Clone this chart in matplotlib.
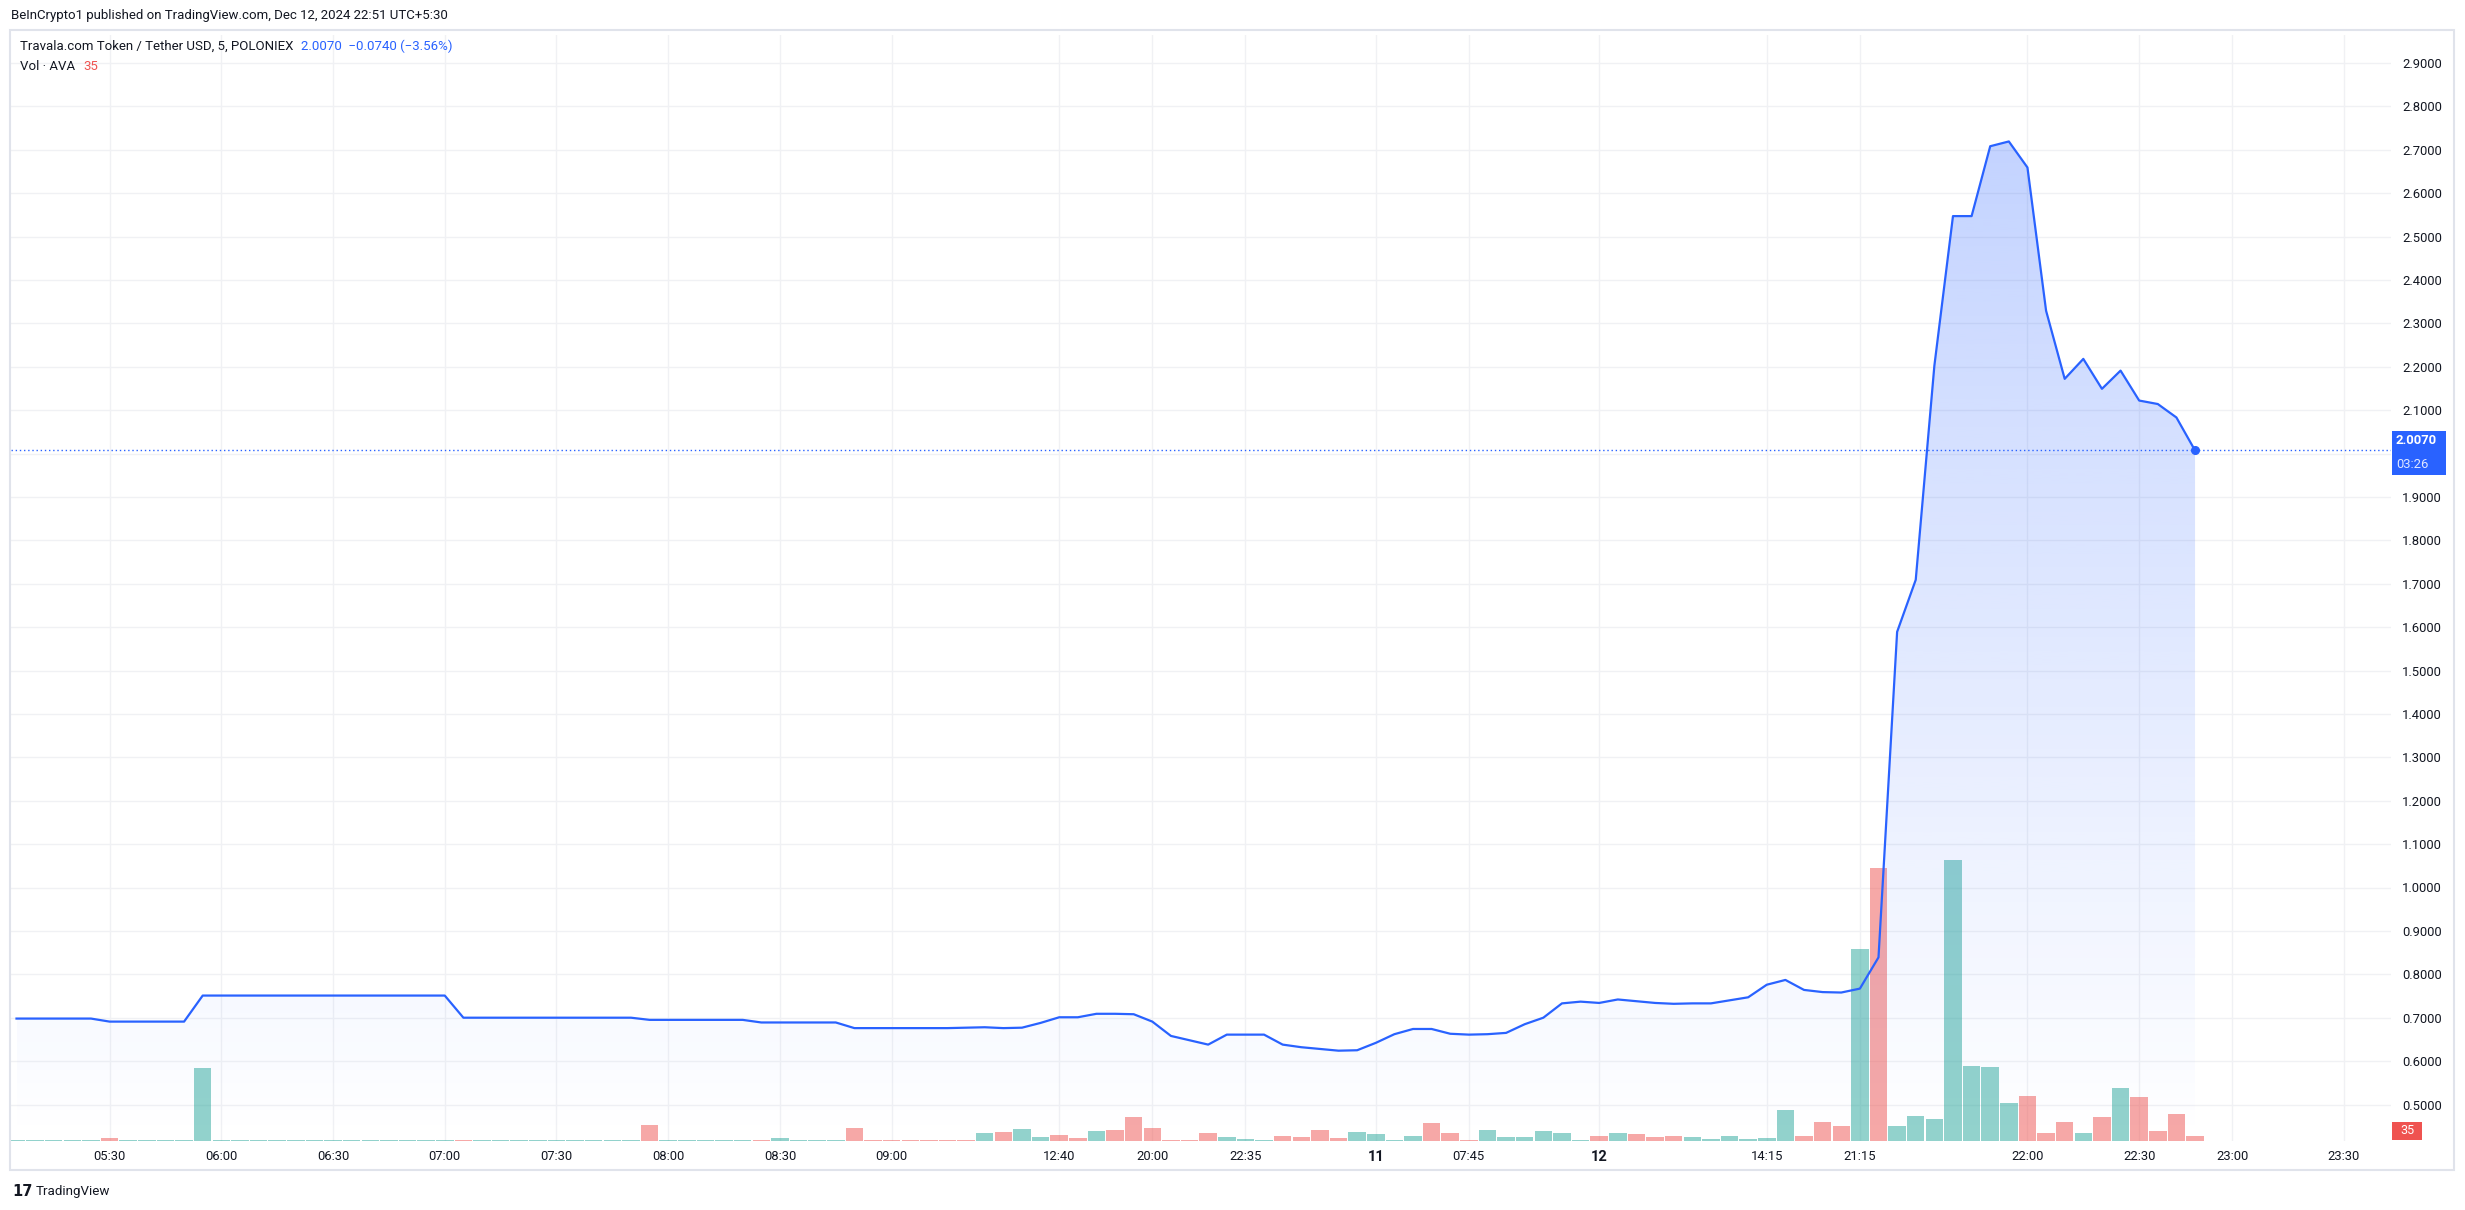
import matplotlib
matplotlib.use("Agg")
import matplotlib.pyplot as plt
import numpy as np
from matplotlib.patches import Rectangle, Polygon
from matplotlib.colors import LinearSegmentedColormap

# ---------------- data ----------------
price = [
    0.698, 0.698, 0.698, 0.698, 0.698,
    0.691, 0.691, 0.691, 0.691, 0.691,
    0.751, 0.751, 0.751, 0.751, 0.751, 0.751, 0.751,
    0.751, 0.751, 0.751, 0.751, 0.751, 0.751, 0.751,
    0.700, 0.700, 0.700, 0.700, 0.700, 0.700, 0.700, 0.700, 0.700, 0.700,
    0.695, 0.695, 0.695, 0.695, 0.695, 0.695,
    0.689, 0.689, 0.689, 0.689, 0.689,
    0.676, 0.676, 0.676, 0.676, 0.676, 0.676,
    0.677, 0.678, 0.676, 0.677,
    0.688, 0.701, 0.701, 0.709, 0.709,
    0.708, 0.691, 0.658, 0.648, 0.638, 0.661, 0.661, 0.661, 0.638, 0.632,
    0.628, 0.624, 0.625, 0.642, 0.662, 0.674, 0.674, 0.663, 0.661, 0.662,
    0.665, 0.685, 0.700, 0.733, 0.737, 0.734, 0.742, 0.738, 0.734, 0.732,
    0.733, 0.733, 0.740, 0.747, 0.776, 0.787, 0.764, 0.759, 0.758, 0.767,
    0.839, 1.589, 1.709, 2.202, 2.547, 2.547, 2.708, 2.719, 2.659, 2.329,
    2.172, 2.218, 2.149, 2.191, 2.122, 2.114, 2.083, 2.007,
]

volume = [
    6, 6, 6, 6, 6,
    22, 6, 6, 6, 6,
    473, 6, 6, 6, 6, 6, 6, 6, 6, 6, 6, 6, 6, 6,
    8, 6, 6, 6, 6, 6, 6, 6, 6, 6,
    107, 6, 6, 6, 6, 6,
    8, 22, 6, 6, 6,
    87, 6, 6, 6, 6, 6,
    6, 55, 61, 81,
    29, 42, 22, 68, 74,
    153, 87, 8, 8, 55, 29, 15, 8, 35, 29,
    74, 22, 61, 48, 8, 35, 120, 55, 8, 74,
    29, 29, 68, 55, 5, 35, 55, 48, 29, 35,
    29, 16, 35, 16, 22, 200, 35, 121, 95, 1245,
    1774, 95, 161, 141, 1827, 485, 478, 247, 293, 55,
    121, 55, 154, 346, 286, 62, 174, 35,
]

# 'u' = up (green) bar, 'd' = down (red) bar; one block of ten bars per string
direction = list("".join([
    "uuuuuduuuu",   # 0-9
    "uuuuuuuuuu",   # 10-19
    "uuuuduuuuu",   # 20-29
    "uuuuduuuuu",   # 30-39
    "duuuuddddd",   # 40-49
    "dduduuddud",   # 50-59
    "ddddduuudd",   # 60-69
    "dduuuudddu",   # 70-79
    "uuuuududdd",   # 80-89
    "uuuuuudddu",   # 90-99
    "duuuuuuudd",   # 100-109
    "dududddd",     # 110-117
]))

tick_idx = [5, 11, 17, 23, 29, 35, 41, 47, 56, 61, 66, 73, 78, 85, 94, 99, 108, 114, 119, 125]
tick_lbl = ["05:30", "06:00", "06:30", "07:00", "07:30", "08:00", "08:30", "09:00",
            "12:40", "20:00", "22:35", "11", "07:45", "12", "14:15", "21:15",
            "22:00", "22:30", "23:00", "23:30"]
bold_lbl = ["11", "12"]
price_ticks = [0.5, 0.6, 0.7, 0.8, 0.9, 1.0, 1.1, 1.2, 1.3, 1.4, 1.5, 1.6, 1.7,
               1.8, 1.9, 2.0, 2.1, 2.2, 2.3, 2.4, 2.5, 2.6, 2.7, 2.8, 2.9]

# ---------------- layout ----------------
W, H, DPI = 2465, 1210, 100
FONT = ["Roboto", "DejaVu Sans"]
plt.rcParams["font.family"] = FONT

fig = plt.figure(figsize=(W / DPI, H / DPI), dpi=DPI)
fig.patch.set_facecolor("white")


def fx(p):
    return p / W


def fy(p):
    return 1 - p / H


PL, PR, PT, PB = 11, 2391, 35, 1141
rect = [fx(PL), fy(PB), fx(PR) - fx(PL), fy(PT) - fy(PB)]
XLIM = ((PL - 16.5) / 18.62, (PR - 16.5) / 18.62)
YLIM = (2.9 - (PB - 62.9) / 434.0, 2.9 - (PT - 62.9) / 434.0)
VOL_PER_PX = 6.5
VLIM = (0, (PB - PT) * VOL_PER_PX)

GREEN = (38 / 255, 166 / 255, 154 / 255, 0.5)
RED = (239 / 255, 83 / 255, 80 / 255, 0.5)
BLUE = "#2962ff"
GRID = "#f0f1f4"
TXT = "#131722"

x = np.arange(len(price))
price = np.array(price, dtype=float)

# volume axis (bottom layer, holds grid)
ax_v = fig.add_axes(rect)
ax_v.set_facecolor("white")
ax_v.set_axisbelow(True)
cols = [GREEN if d == "u" else RED for d in direction]
ax_v.bar(x, volume, width=0.94, color=cols, linewidth=0, zorder=2)
ax_v.set_xlim(*XLIM)
ax_v.set_ylim(*VLIM)
ax_v.set_yticks([])
ax_v.set_xticks(tick_idx)
ax_v.set_xticklabels(tick_lbl)
ax_v.tick_params(axis="x", length=0, pad=6.5, labelsize=9.4, labelcolor=TXT)
for t in ax_v.get_xticklabels():
    if t.get_text() in bold_lbl:
        t.set_fontweight("bold")
        t.set_fontsize(10.5)
ax_v.grid(axis="x", color=GRID, lw=1.0, zorder=0)
for s in ax_v.spines.values():
    s.set_visible(False)

for v in price_ticks:
    yy = (v - YLIM[0]) / (YLIM[1] - YLIM[0])
    ax_v.axhline(yy * VLIM[1], color=GRID, lw=1.0, zorder=0)

# price axis (top layer)
ax_p = ax_v.twinx()
ax_p.patch.set_visible(False)
ax_p.set_ylim(*YLIM)

top_val = price.max()
cmap = LinearSegmentedColormap.from_list(
    "area", [(41 / 255, 98 / 255, 1.0, 0.0), (41 / 255, 98 / 255, 1.0, 0.28)])
grad = np.linspace(0, 1, 512).reshape(-1, 1)
im = ax_p.imshow(grad, extent=[x[0], x[-1], YLIM[0], top_val], origin="lower",
                 aspect="auto", cmap=cmap, zorder=1, interpolation="bilinear")
verts = [(x[0], YLIM[0])] + list(zip(x, price)) + [(x[-1], YLIM[0])]
clip = Polygon(verts, closed=True, facecolor="none", edgecolor="none",
               transform=ax_p.transData)
ax_p.add_patch(clip)
im.set_clip_path(clip)

ax_p.axhline(price[-1], color=BLUE, lw=1.0, ls=(0, (1, 2)), zorder=2)
ax_p.plot(x, price, color=BLUE, lw=1.6, zorder=3, solid_joinstyle="round")
ax_p.plot([x[-1]], [price[-1]], "o", ms=5.5, color=BLUE, zorder=4)

ax_p.set_xlim(*XLIM)
ax_p.set_ylim(*YLIM)
ax_p.set_yticks(price_ticks)
ax_p.set_yticklabels(["" if abs(v - 2.0) < 1e-9 else f"{v:.4f}" for v in price_ticks])
ax_p.tick_params(axis="y", length=0, pad=8.0, labelsize=9.4, labelcolor=TXT)
for s in ax_p.spines.values():
    s.set_visible(False)

# outer frame
fig.add_artist(Rectangle((fx(10), fy(1170)), fx(2454) - fx(10), fy(30) - fy(1170),
                         transform=fig.transFigure, fill=False,
                         edgecolor="#e0e3eb", lw=1.5, zorder=5))

# last price box
fig.add_artist(Rectangle((fx(2392), fy(475)), fx(2446) - fx(2392), fy(431) - fy(475),
                         transform=fig.transFigure, facecolor=BLUE, edgecolor="none", zorder=6))
fig.text(fx(2396), fy(441), f"{price[-1]:.4f}", color="white", fontsize=9.4,
         fontweight="bold", va="center", ha="left", zorder=7)
fig.text(fx(2396), fy(465), "03:26", color="#dfe7ff", fontsize=9.4,
         va="center", ha="left", zorder=7)

# last volume box
fig.add_artist(Rectangle((fx(2392), fy(1140)), fx(2422) - fx(2392), fy(1122) - fy(1140),
                         transform=fig.transFigure, facecolor="#ef5350", edgecolor="none", zorder=6))
fig.text(fx(2407), fy(1131), f"{volume[-1]}", color="white", fontsize=9.0,
         va="center", ha="center", zorder=7)

# header texts
fig.text(fx(11), fy(16), "BeInCrypto1 published on TradingView.com, Dec 12, 2024 22:51 UTC+5:30",
         color=TXT, fontsize=9.5, va="center", ha="left")
t1 = fig.text(fx(20), fy(46), "Travala.com Token / Tether USD, 5, POLONIEX",
              color=TXT, fontsize=9.5, va="center", ha="left")
ax_p.annotate("2.0070  \u22120.0740 (\u22123.56%)", xy=(1, 0.5), xycoords=t1,
              xytext=(8, 0), textcoords="offset pixels", va="center", ha="left",
              color=BLUE, fontsize=9.5, annotation_clip=False)
t3 = fig.text(fx(20), fy(67), "Vol \u00b7 AVA", color=TXT, fontsize=9.5,
              va="center", ha="left")
ax_p.annotate(f"{volume[-1]}", xy=(1, 0.5), xycoords=t3, xytext=(8, 0),
              textcoords="offset pixels", va="center", ha="left",
              color="#ef5350", fontsize=9.5, annotation_clip=False)

# TradingView logo
t4 = fig.text(fx(12), fy(1192), "17", color=TXT, fontsize=10.5, fontweight="heavy",
              va="center", ha="left", family=["DejaVu Sans"])
ax_p.annotate("TradingView", xy=(1, 0.5), xycoords=t4, xytext=(3, 0),
              textcoords="offset pixels", va="center", ha="left",
              color=TXT, fontsize=9.6, annotation_clip=False)

fig.savefig("out.png", dpi=DPI, facecolor="white")
